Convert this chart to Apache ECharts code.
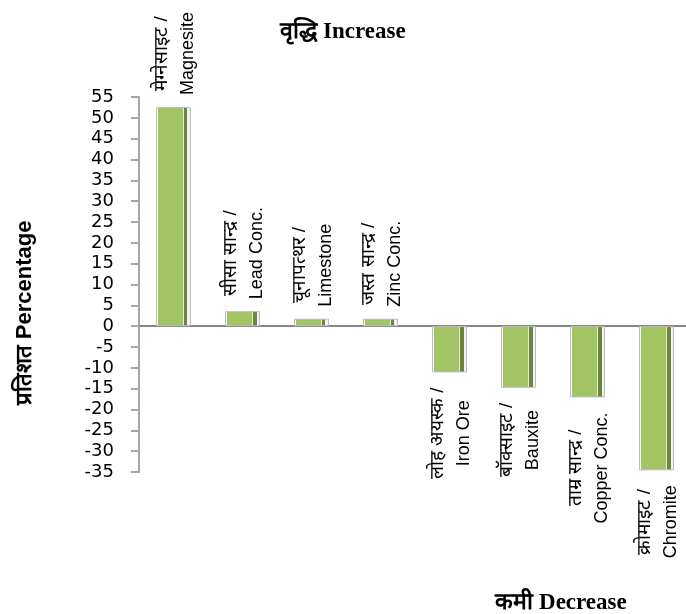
<!DOCTYPE html>
<html>
<head>
<meta charset="utf-8">
<script src="https://cdn.jsdelivr.net/npm/echarts@6/dist/echarts.min.js"></script>
<style>
html,body{margin:0;padding:0;background:#fff;}
#c{width:686px;height:614px;}
</style>
</head>
<body>
<div id="c"></div>
<script>
const categoriesHi = ['मेग्नेसाइट /', 'सीसा सान्द्र /', 'चूनापत्थर /', 'जस्त सान्द्र /', 'लोह अयस्क /', 'बॉक्साइट /', 'ताम्र सान्द्र /', 'क्रोमाइट /'];
const categoriesEn = ['Magnesite', 'Lead Conc.', 'Limestone', 'Zinc Conc.', 'Iron Ore', 'Bauxite', 'Copper Conc.', 'Chromite'];
const values = [52.6, 3.6, 1.8, 1.8, -11.1, -14.8, -17.1, -34.6];
const yMin = -35, yMax = 55, yStep = 5;
const yName = 'प्रतिशत Percentage';

const barColor = {
  type: 'linear', x: 0, y: 0, x2: 1, y2: 0,
  colorStops: [
    {offset: 0, color: '#ffffff'}, {offset: 0.06, color: '#ffffff'},
    {offset: 0.06, color: '#A3C462'}, {offset: 0.77, color: '#A3C462'},
    {offset: 0.77, color: '#e4ecd6'}, {offset: 0.80, color: '#e4ecd6'},
    {offset: 0.80, color: '#6B853A'}, {offset: 0.90, color: '#6B853A'},
    {offset: 0.90, color: '#f2f2f2'}, {offset: 1, color: '#f2f2f2'}
  ]
};

const data = values.map((v, i) => ({
  value: v,
  label: v >= 0
    ? {position: 'top', align: 'left', distance: 12}
    : {position: 'bottom', align: 'right', distance: 15}
}));

const chart = echarts.init(document.getElementById('c'));
chart.setOption({
  animation: false,
  backgroundColor: '#ffffff',
  title: [
    {text: 'वृद्धि Increase', left: 338, top: 16, textAlign: 'center',
     textStyle: {fontFamily: 'Liberation Serif', fontWeight: 'bold', fontSize: 23, color: '#000'}},
    {text: 'कमी Decrease', left: 556, top: 587, textAlign: 'center',
     textStyle: {fontFamily: 'Liberation Serif', fontWeight: 'bold', fontSize: 23, color: '#000'}}
  ],
  graphic: [{
    type: 'text', x: 25, y: 313, rotation: Math.PI / 2,
    style: {text: yName, fontFamily: 'Liberation Sans', fontWeight: 'bold', fontSize: 22,
            fill: '#000', align: 'center', verticalAlign: 'middle'}
  }],
  grid: {left: 139, top: 97, width: 552, height: 375, containLabel: false, outerBoundsMode: 'none'},
  xAxis: {
    type: 'category',
    data: categoriesEn,
    axisLine: {show: true, onZero: true, lineStyle: {color: '#868686', width: 2}},
    axisTick: {show: false},
    axisLabel: {show: false},
    splitLine: {show: false}
  },
  yAxis: {
    type: 'value',
    min: yMin, max: yMax, interval: yStep,
    axisLine: {show: true, lineStyle: {color: '#a6a6a6', width: 2}},
    axisTick: {show: true, length: 8, lineStyle: {color: '#a6a6a6', width: 2}},
    axisLabel: {margin: 25, fontFamily: 'DejaVu Sans', fontSize: 18, color: '#000'},
    splitLine: {show: false}
  },
  series: [{
    type: 'bar',
    data: data,
    barWidth: 35,
    itemStyle: {color: barColor, borderColor: '#bdbdbd', borderWidth: 1},
    label: {
      show: true,
      rotate: 90,
      verticalAlign: 'middle',
      formatter: p => '{a|' + categoriesHi[p.dataIndex] + '}\n{b|' + categoriesEn[p.dataIndex] + '}',
      rich: {
        a: {fontFamily: 'Liberation Sans', fontSize: 19, color: '#000', align: 'center', lineHeight: 30},
        b: {fontFamily: 'Liberation Sans', fontSize: 18, color: '#000', align: 'center', lineHeight: 24}
      }
    }
  }]
});
</script>
</body>
</html>
